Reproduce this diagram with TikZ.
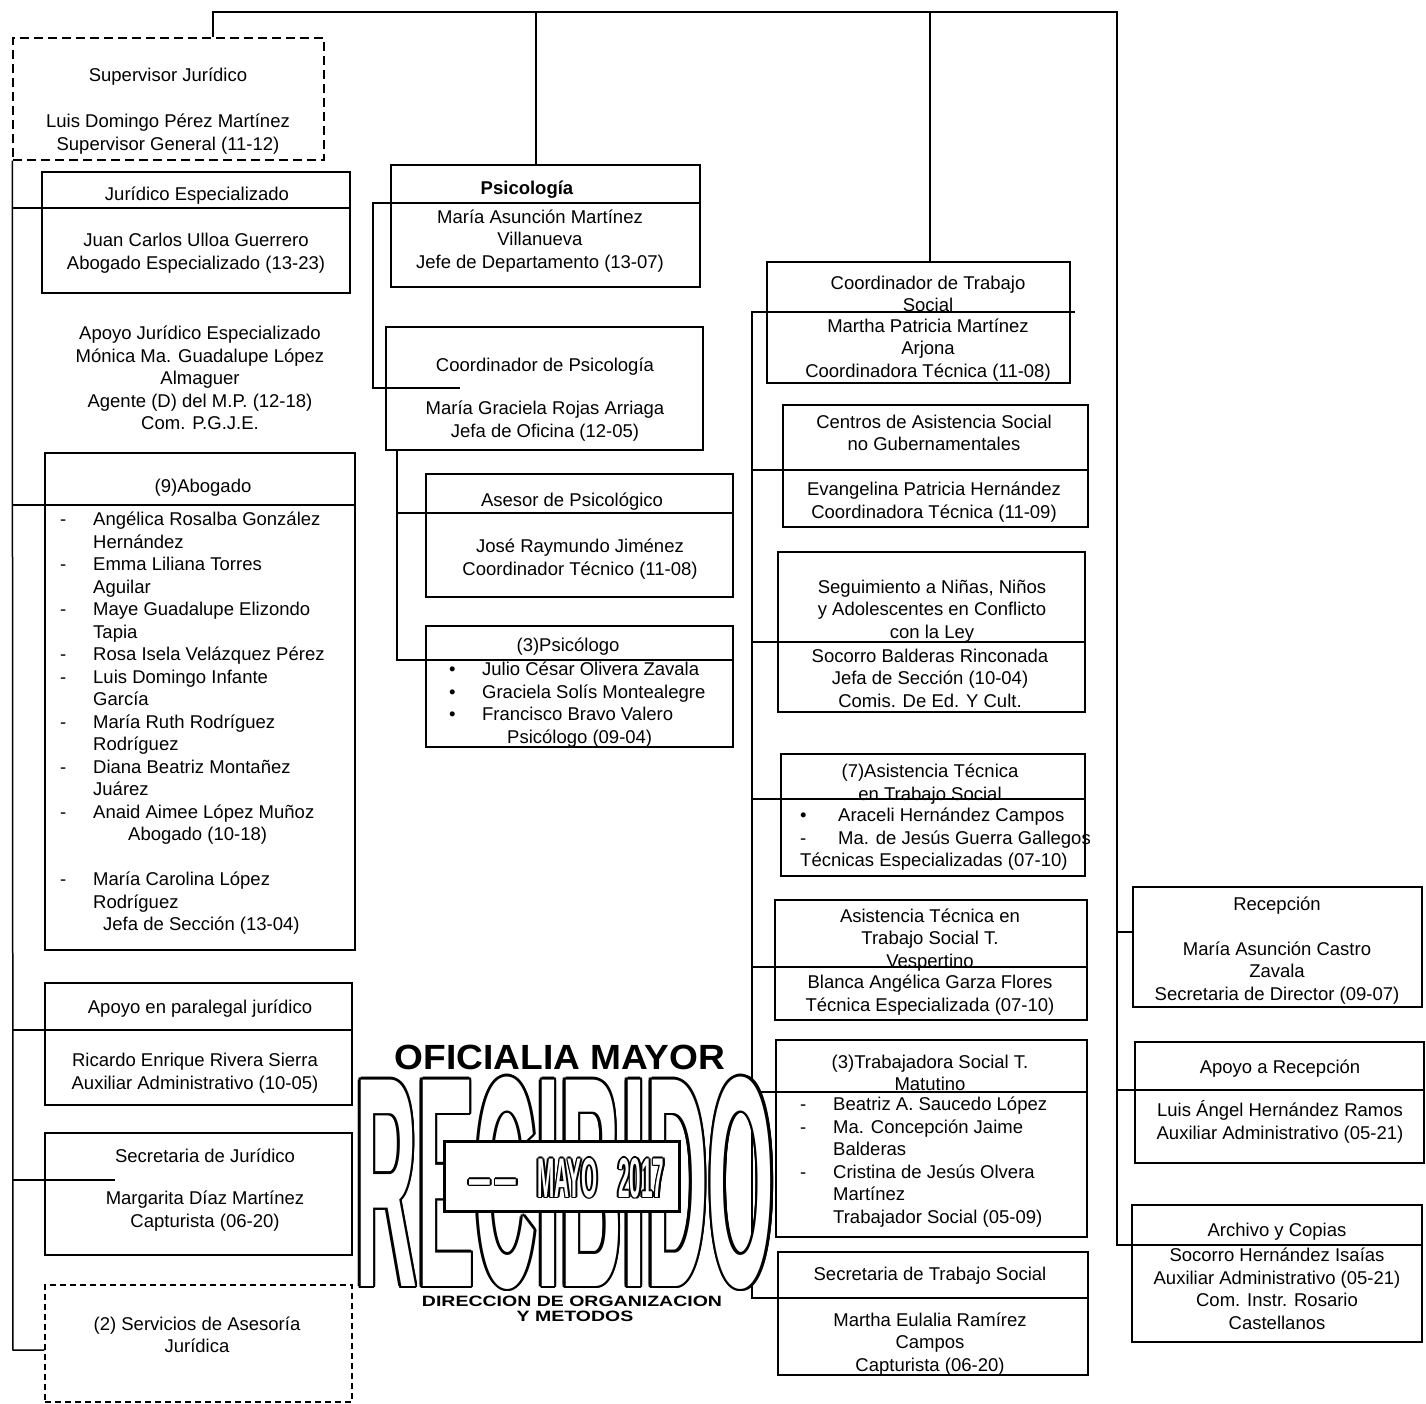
\documentclass[tikz,border=0pt]{standalone}
\usepackage{fontspec}
\setmainfont{Liberation Sans}
\usetikzlibrary{calc}

\tikzset{
  unit/.style={draw, line width=1.5pt, inner sep=0pt},
  dunit/.style={unit, dash pattern=on 9pt off 5pt},
  txt/.style={font=\fontsize{18.5}{22.5}\selectfont, align=center, inner sep=0pt},
  lst/.style={txt, align=left, anchor=north west},
  link/.style={line width=1.5pt},
  bigst/.style={font=\fontsize{300}{300}\bfseries\selectfont, inner sep=0pt},
  datest/.style={font=\fontsize{56}{56}\bfseries\selectfont, inner sep=0pt},
}
\newcommand{\itm}[1]{\makebox[33pt][l]{-}#1}
\newcommand{\dotm}[1]{\makebox[33pt][l]{\textbullet}#1}
\newcommand{\ind}[1]{\hspace*{33pt}#1}

\begin{document}
\begin{tikzpicture}[x=1pt,y=-1pt]
\useasboundingbox (0,0) rectangle (1426,1404);

% left column
\node[dunit, minimum width=311, minimum height=122] (sup) at (168.5,99) {};
\node[unit, minimum width=308, minimum height=121] (jesp) at (196,232.5) {};
\node[unit, minimum width=310, minimum height=497] (abog) at (200,701.5) {};
\node[unit, minimum width=307, minimum height=122] (apar) at (198.5,1044) {};
\node[unit, minimum width=307, minimum height=122] (secj) at (198.5,1194) {};
\node[dunit, dash pattern=on 6pt off 4pt, minimum width=307, minimum height=117] (serv) at (198.5,1343.5) {};

% psicologia
\node[unit, minimum width=309, minimum height=122] (psi) at (545.5,226) {};
\node[unit, minimum width=317, minimum height=123] (cpsi) at (544.5,388.5) {};
\node[unit, minimum width=307, minimum height=123] (ases) at (579.5,535.5) {};
\node[unit, minimum width=307, minimum height=121] (psis) at (579.5,686.5) {};

% trabajo social
\node[unit, minimum width=303, minimum height=121] (cts) at (918.5,322.5) {};
\node[unit, minimum width=305, minimum height=122] (cent) at (935.5,466) {};
\node[unit, minimum width=307, minimum height=160] (segu) at (931.5,632) {};
\node[unit, minimum width=304, minimum height=122] (ats) at (933,815) {};
\node[unit, minimum width=312, minimum height=120] (atv) at (931,960) {};
\node[unit, minimum width=311, minimum height=197] (trab) at (931.5,1138.5) {};
\node[unit, minimum width=310, minimum height=123] (sects) at (933,1313.5) {};

% recepcion
\node[unit, minimum width=289, minimum height=120] (rec) at (1277.5,947) {};
\node[unit, minimum width=289, minimum height=121] (arec) at (1279.5,1102.5) {};
\node[unit, minimum width=290, minimum height=137] (arch) at (1277,1273.5) {};

% lines
\coordinate (tl) at (213,12);
\coordinate (tp) at (536,12);
\coordinate (tc) at (930,12);
\coordinate (tr) at (1117,12);
\draw[link] (tl |- sup.north) -- (tl) -- (tr) -- (1117,1245) -- (arch.east |- 1117,1245);
\draw[link] (tp) -- (tp |- psi.north);
\draw[link] (tc) -- (tc |- cts.north);
\draw[link] (1117,932) -- (rec.west |- 1117,932);
\draw[link] (1117,1090) -- (arec.east |- 1117,1090);

\draw[link] (sup.south west) -- (13,1350) -- (serv.west |- 13,1350);
\draw[link] (13,208) -- (jesp.east |- 13,208);
\draw[link] (13,505) -- (abog.east |- 13,505);
\draw[link] (13,1030) -- (apar.east |- 13,1030);
\draw[link] (13,1180) -- (115,1180);

\draw[link] (psi.east |- 373,203) -- (373,203) -- (373,388) -- (460,388);
\draw[link] (cpsi.south -| 397,0) -- (397,660) -- (psis.east |- 397,660);
\draw[link] (397,513) -- (ases.east |- 397,513);

\draw[link] (1075,312) -- (752,312) -- (752,1298) -- (sects.east |- 752,1298);
\foreach \yy/\nm in {470/cent, 642/segu, 799/ats, 967/atv, 1092/trab}
  \draw[link] (752,\yy) -- (\nm.east |- 752,\yy);

% texts
\node[txt] (sup-a) at (168,77) {Supervisor Jurídico};
\node[txt] (sup-b) at (168,134) {Luis Domingo Pérez Martínez\\Supervisor General (11-12)};
\node[txt] (jesp-a) at (197,196) {Jurídico Especializado};
\node[txt] (jesp-b) at (196,253) {Juan Carlos Ulloa Guerrero\\Abogado Especializado (13-23)};
\node[txt] (ajes) at (200,378) {Apoyo Jurídico Especializado\\Mónica Ma. Guadalupe López\\Almaguer\\Agente (D) del M.P. (12-18)\\Com. P.G.J.E.};
\node[txt] (abog-a) at (203,488) {(9)Abogado};
\node[lst] (abog-b) at (60,512) {\itm{Angélica Rosalba González}\\
  \ind{Hernández}\\
  \itm{Emma Liliana Torres}\\
  \ind{Aguilar}\\
  \itm{Maye Guadalupe Elizondo}\\
  \ind{Tapia}\\
  \itm{Rosa Isela Velázquez Pérez}\\
  \itm{Luis Domingo Infante}\\
  \ind{García}\\
  \itm{María Ruth Rodríguez}\\
  \ind{Rodríguez}\\
  \itm{Diana Beatriz Montañez}\\
  \ind{Juárez}\\
  \itm{Anaid Aimee López Muñoz}\\
  \hspace*{68pt}Abogado (10-18)\\
  \mbox{}\\
  \itm{María Carolina López}\\
  \ind{Rodríguez}\\
  \hspace*{43pt}Jefa de Sección (13-04)};
\node[txt] (apar-a) at (200,1009) {Apoyo en paralegal jurídico};
\node[txt] (apar-b) at (195,1073) {Ricardo Enrique Rivera Sierra\\Auxiliar Administrativo (10-05)};
\node[txt] (secj-a) at (205,1156) {Secretaria de Jurídico};
\node[txt] (secj-b) at (205,1211) {Margarita Díaz Martínez\\Capturista (06-20)};
\node[txt] (serv-a) at (197,1335) {(2) Servicios de Asesoría\\Jurídica};

\node[txt] (psi-a) at (527,190) {\bfseries Psicología};
\node[txt] (psi-b) at (540,241) {María Asunción Martínez\\Villanueva\\Jefe de Departamento (13-07)};
\node[txt] (cpsi-a) at (545,367) {Coordinador de Psicología};
\node[txt] (cpsi-b) at (545,421) {María Graciela Rojas Arriaga\\Jefa de Oficina (12-05)};
\node[txt] (ases-a) at (572,502) {Asesor de Psicológico};
\node[txt] (ases-b) at (580,559) {José Raymundo Jiménez\\Coordinador Técnico (11-08)};
\node[txt] (psis-a) at (568,647) {(3)Psicólogo};
\node[lst] (psis-b) at (449,662) {\dotm{Julio César Olivera Zavala}\\
  \dotm{Graciela Solís Montealegre}\\
  \dotm{Francisco Bravo Valero}\\
  \hspace*{58pt}Psicólogo (09-04)};

\node[txt] (cts-a) at (928,294) {Coordinador de Trabajo\\Social};
\node[txt] (cts-b) at (928,350) {Martha Patricia Martínez\\Arjona\\Coordinadora Técnica (11-08)};
\node[txt] (cent-a) at (934,433) {Centros de Asistencia Social\\no Gubernamentales};
\node[txt] (cent-b) at (934,502) {Evangelina Patricia Hernández\\Coordinadora Técnica (11-09)};
\node[txt] (segu-a) at (932,611) {Seguimiento a Niñas, Niños\\y Adolescentes en Conflicto\\con la Ley};
\node[txt] (segu-b) at (930,678) {Socorro Balderas Rinconada\\Jefa de Sección (10-04)\\Comis. De Ed. Y Cult.};
\node[txt] (ats-a) at (930,784) {(7)Asistencia Técnica\\en Trabajo Social};
\node[lst] (ats-b) at (800,808) {\makebox[38pt][l]{\textbullet}Araceli Hernández Campos\\
  \makebox[38pt][l]{-}Ma. de Jesús Guerra Gallegos\\
  Técnicas Especializadas (07-10)};
\node[txt] (atv-a) at (930,940) {Asistencia Técnica en\\Trabajo Social T.\\Vespertino};
\node[txt] (atv-b) at (930,995) {Blanca Angélica Garza Flores\\Técnica Especializada (07-10)};
\node[txt] (trab-a) at (930,1073) {(3)Trabajadora Social T.\\Matutino};
\node[lst] (trab-b) at (800,1097) {\itm{Beatriz A. Saucedo López}\\
  \itm{Ma. Concepción Jaime}\\
  \ind{Balderas}\\
  \itm{Cristina de Jesús Olvera}\\
  \ind{Martínez}\\
  \ind{Trabajador Social (05-09)}};
\node[txt] (sects-a) at (930,1276) {Secretaria de Trabajo Social};
\node[txt] (sects-b) at (930,1344) {Martha Eulalia Ramírez\\Campos\\Capturista (06-20)};

\node[txt] (rec-a) at (1277,906) {Recepción};
\node[txt] (rec-b) at (1277,973) {María Asunción Castro\\Zavala\\Secretaria de Director (09-07)};
\node[txt] (arec-a) at (1280,1069) {Apoyo a Recepción};
\node[txt] (arec-b) at (1280,1122) {Luis Ángel Hernández Ramos\\Auxiliar Administrativo (05-21)};
\node[txt] (arch-a) at (1277,1232) {Archivo y Copias};
\node[txt] (arch-b) at (1277,1289) {Socorro Hernández Isaías\\Auxiliar Administrativo (05-21)\\Com. Instr. Rosario\\Castellanos};

% sello
\coordinate (stc) at (565,1183);
\foreach \a [count=\i] in {0,30,...,330}
  \node[bigst, text=black] (rb\i) at ($(stc)+(\a:2.6)$) {\scalebox{0.286}[1]{RECIBIDO}};
\node[bigst, text=white] (rbw) at (stc) {\scalebox{0.286}[1]{RECIBIDO}};
\node[draw, line width=3pt, fill=white, minimum width=235, minimum height=70] (fecha) at (562,1176) {};
\foreach \a [count=\i] in {0,45,...,315}
  \node[datest, text=black] (fd\i) at ($(567,1178)+(\a:1.6)$) {\scalebox{0.37}[1]{— —\quad MAYO\quad 2017}};
\node[datest, text=white] (fdw) at (567,1178) {\scalebox{0.37}[1]{— —\quad MAYO\quad 2017}};
\node[inner sep=0pt, font=\fontsize{35}{35}\bfseries\selectfont] (ofm) at (560,1057) {\scalebox{1.06}[1]{OFICIALIA MAYOR}};
\node[inner sep=0pt, font=\fontsize{15}{15}\bfseries\selectfont] (dir) at (572,1301) {\scalebox{1.3}[1]{DIRECCION DE ORGANIZACION}};
\node[inner sep=0pt, font=\fontsize{15}{15}\bfseries\selectfont] (met) at (575,1316) {\scalebox{1.3}[1]{Y METODOS}};
\end{tikzpicture}
\end{document}
